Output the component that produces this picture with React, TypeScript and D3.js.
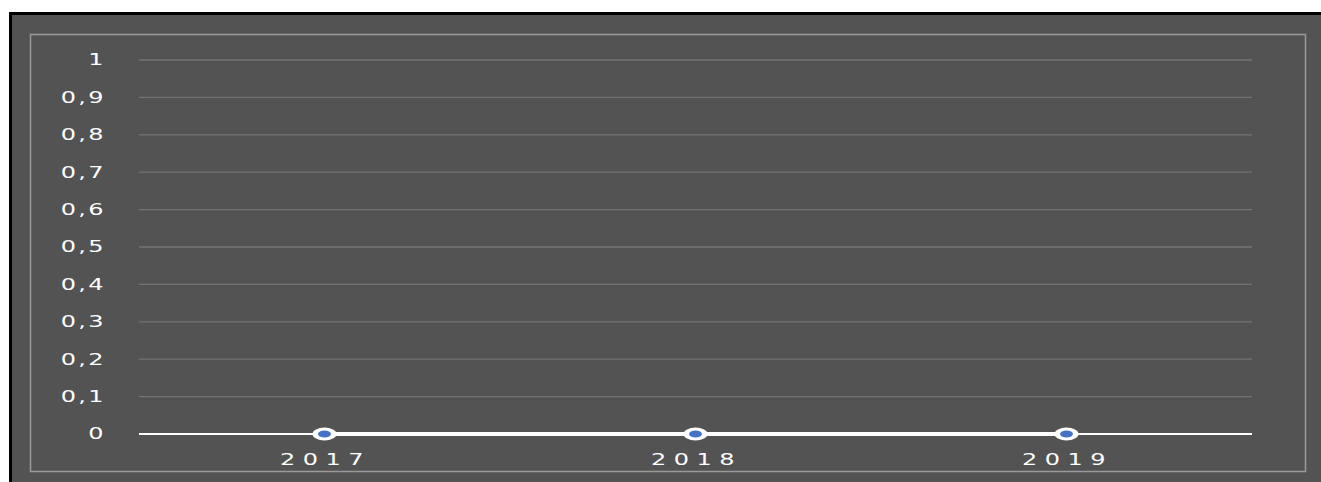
import React from "react";
import * as d3 from "d3";

const categories = ["2017", "2018", "2019"];
const seriesValues = [0, 0, 0];
const yTicks = [0, 0.1, 0.2, 0.3, 0.4, 0.5, 0.6, 0.7, 0.8, 0.9, 1];

export default function App() {
  const W = 1321, H = 482;
  const left = 139, right = 1252, top = 60, bottom = 434;
  const x = d3.scaleBand().domain(categories).range([left, right]);
  const y = d3.scaleLinear().domain([0, 1]).range([bottom, top]);
  const fmt = (v: number) => (v === 0 ? "0" : v === 1 ? "1" : String(v).replace(".", ","));
  const line = d3
    .line<number>()
    .x((_, i) => (x(categories[i]) as number) + x.bandwidth() / 2)
    .y((d) => y(d));
  return (
    <svg width={W} height={H} style={{ position: "absolute", left: 0, top: 0, background: "#fff" }}>
      <rect x={10.5} y={13.5} width={W} height={H} fill="#535353" stroke="#000" strokeWidth={3} />
      <rect x={30.5} y={34.5} width={1275} height={437} fill="none" stroke="#9a9a9a" strokeWidth={1.5} />
      {yTicks.map((t) => (
        <g key={t}>
          {t !== 0 && (
            <line x1={left} x2={right} y1={y(t)} y2={y(t)} stroke="#737373" strokeWidth={1.3} />
          )}
          <g transform={`translate(106,${y(t)}) scale(1.6,1)`}>
            <text
              x={0}
              y={0}
              dy="0.36em"
              textAnchor="end"
              fill="#fff"
              fontSize={15}
              letterSpacing={1.5}
              fontFamily="DejaVu Sans, sans-serif"
            >
              {fmt(t)}
            </text>
          </g>
        </g>
      ))}
      <line x1={left} x2={right} y1={y(0)} y2={y(0)} stroke="#fff" strokeWidth={2} />
      <path d={line(seriesValues) || ""} fill="none" stroke="#fff" strokeWidth={4} />
      {seriesValues.map((v, i) => {
        const cx = (x(categories[i]) as number) + x.bandwidth() / 2;
        return (
          <g key={i}>
            <ellipse cx={cx} cy={y(v)} rx={12} ry={6.5} fill="#fff" />
            <ellipse cx={cx} cy={y(v)} rx={6.5} ry={3.5} fill="#4472C4" />
          </g>
        );
      })}
      {categories.map((c) => (
        <g key={c} transform={`translate(${(x(c) as number) + x.bandwidth() / 2 + 1},465) scale(1.5,1)`}>
          <text
            x={0}
            y={0}
            textAnchor="middle"
            fill="#fff"
            fontSize={16}
            letterSpacing={5}
            fontFamily="DejaVu Sans, sans-serif"
          >
            {c}
          </text>
        </g>
      ))}
    </svg>
  );
}
